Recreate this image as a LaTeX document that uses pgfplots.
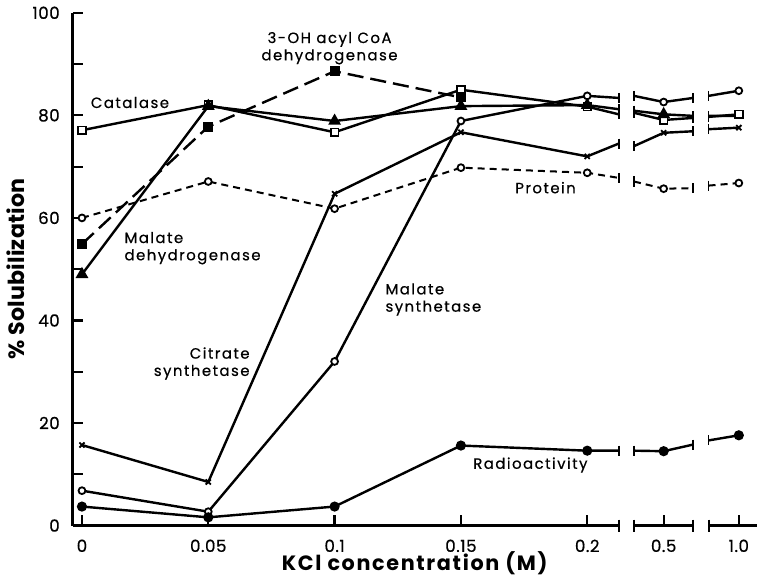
\documentclass[border=0pt]{standalone}
\usepackage{fontspec}
\setmainfont{Poppins}
\newfontfamily\annot{Poppins}[LetterSpace=10, FakeBold=0.6]
\newfontfamily\tickf{Poppins}[LetterSpace=3, FakeBold=0.5]
\newfontfamily\labf{Poppins}[LetterSpace=8]
\newfontfamily\ylabf{Poppins}[LetterSpace=1]
\usepackage{pgfplots}
\pgfplotsset{compat=1.18}
\begin{document}
\begin{tikzpicture}
\begin{axis}[
  scale only axis, width=340pt, height=255pt,
  xmin=-0.072, xmax=5.34, ymin=0, ymax=100,
  axis x line=bottom, axis y line=left,
  x axis line style={draw=none},
  y axis line style={line width=1.5pt,-},
  xtick={0,1,2,3,4,4.605,5.2},
  xticklabels={0,0.05,0.1,0.15,0.2,0.5,1.0},
  ytick={0,20,40,60,80,100},
  yticklabels={0,20,40,60,80,100},
  minor ytick={10,30,50,70,90},
  tick align=inside, major tick length=5pt, minor tick length=5pt,
  tick style={line width=1.1pt,black},
  /pgf/number format/assume math mode=true,
  tick label style={font=\tickf\fontsize{8.3}{9}\selectfont},
  yticklabel style={xshift=-3pt},
  xticklabel style={yshift=-3.5pt},
  xlabel={KCl concentration (M)},
  ylabel={\% Solubilization},
  xlabel style={font=\labf\bfseries\fontsize{10.3}{11}\selectfont, yshift=7pt},
  ylabel style={font=\ylabf\bfseries\fontsize{11}{12}\selectfont, yshift=-3pt},
  unbounded coords=jump,
  clip=false,
  every axis plot/.append style={black, line width=1.2pt},
]
% broken x axis line
\addplot[line width=1.5pt, mark=none] coordinates {(-0.072,0) (4.25,0) (4.3,nan) (4.37,0) (4.84,0) (4.9,nan) (4.96,0) (5.34,0)};
\addplot[only marks, mark=|, mark size=3pt, line width=1pt] coordinates {(4.25,0) (4.37,0) (4.84,0) (4.96,0)};

% Catalase
\addplot[mark=none] coordinates {(0,77.1)(1,82.0)(2,76.7)(3,85.0)(4,81.7)(4.25,80.2)(4.3,nan)(4.37,80.5)(4.605,79.1)(4.84,79.5)(4.9,nan)(4.96,79.7)(5.2,80.2)};
% Malate dehydrogenase
\addplot[mark=none] coordinates {(0,49.0)(1,81.8)(2,78.9)(3,81.8)(4,82.0)(4.25,81.2)(4.3,nan)(4.37,80.9)(4.605,80.2)(4.84,79.9)(4.9,nan)(4.96,79.9)(5.2,79.9)};
% 3-OH acyl CoA dehydrogenase
\addplot[mark=none, dash pattern=on 8pt off 3.5pt] coordinates {(0,54.9)(1,77.8)(2,88.6)(3,83.5)};
% Protein
\addplot[mark=none, line width=1pt, dash pattern=on 3.5pt off 2.5pt] coordinates {(0,60.0)(1,67.1)(2,61.8)(3,69.8)(4,68.8)(4.25,67.8)(4.3,nan)(4.37,67.1)(4.605,65.7)(4.84,65.8)(4.9,nan)(4.96,66.3)(5.2,66.8)};
% Citrate synthetase
\addplot[mark=none] coordinates {(0,15.7)(1,8.5)(2,64.7)(3,76.7)(4,72.0)(4.25,74.5)(4.3,nan)(4.37,74.0)(4.605,76.6)(4.84,76.9)(4.9,nan)(4.96,77.3)(5.2,77.6)};
% Malate synthetase
\addplot[mark=none] coordinates {(0,6.8)(1,2.7)(2,32.0)(3,78.9)(4,83.8)(4.25,83.4)(4.3,nan)(4.37,83.8)(4.605,82.6)(4.84,83.4)(4.9,nan)(4.96,83.8)(5.2,84.8)};
% Radioactivity
\addplot[mark=none] coordinates {(0,3.7)(1,1.6)(2,3.7)(3,15.6)(4,14.6)(4.25,14.6)(4.3,nan)(4.37,14.6)(4.605,14.5)(4.84,15.8)(4.9,nan)(4.96,16.6)(5.2,17.6)};

% break ticks on series
\addplot[only marks, mark=|, mark size=2.5pt, line width=0.9pt] coordinates {
(4.25,80.2)(4.37,80.5)(4.84,79.5)(4.96,79.7)
(4.25,81.2)(4.37,80.9)(4.84,79.9)(4.96,79.9)
(4.25,67.8)(4.37,67.1)(4.84,65.8)(4.96,66.3)
(4.25,74.5)(4.37,74.0)(4.84,76.9)(4.96,77.3)
(4.25,83.4)(4.37,83.8)(4.84,83.4)(4.96,83.8)
(4.25,14.6)(4.37,14.6)(4.84,15.8)(4.96,16.6)};

% markers
\addplot[only marks, mark=square*, mark size=1.9pt, mark options={fill=white, line width=0.9pt}] coordinates {(0,77.1)(1,82.0)(2,76.7)(3,85.0)(4,81.7)(4.605,79.1)(5.2,80.2)};
\addplot[only marks, mark=triangle*, mark size=2.5pt, mark options={fill=black}] coordinates {(0,49.0)(1,81.8)(2,78.9)(3,81.8)(4,82.0)(4.605,80.2)};
\addplot[only marks, mark=square*, mark size=1.9pt, mark options={fill=black}] coordinates {(0,54.9)(1,77.8)(2,88.6)(3,83.5)};
\addplot[only marks, mark=*, mark size=1.7pt, mark options={fill=white, line width=0.9pt}] coordinates {(0,60.0)(1,67.1)(2,61.8)(3,69.8)(4,68.8)(4.605,65.7)(5.2,66.8)};
\addplot[only marks, mark=x, mark size=1.8pt, mark options={line width=0.9pt}] coordinates {(0,15.7)(1,8.5)(2,64.7)(3,76.7)(4,72.0)(4.605,76.6)(5.2,77.6)};
\addplot[only marks, mark=*, mark size=1.7pt, mark options={fill=white, line width=0.9pt}] coordinates {(0,6.8)(1,2.7)(2,32.0)(3,78.9)(4,83.8)(4.605,82.6)(5.2,84.8)};
\addplot[only marks, mark=*, mark size=1.9pt, mark options={fill=black}] coordinates {(0,3.7)(1,1.6)(2,3.7)(3,15.6)(4,14.6)(4.605,14.5)(5.2,17.6)};

% annotations
\begin{scope}[every node/.style={font=\annot\fontsize{7.4}{8.6}\selectfont, inner sep=0pt}]
\node at (axis cs:0.38,82.5) {Catalase};
\node[align=center] at (axis cs:1.96,93.1) {3-OH acyl CoA\\dehydrogenase};
\node[align=left, anchor=west] at (axis cs:0.334,54.1) {Malate\\dehydrogenase};
\node[align=right, anchor=east] at (axis cs:1.33,31.6) {Citrate\\synthetase};
\node[align=left, anchor=west] at (axis cs:2.40,44.1) {Malate\\synthetase};
\node at (axis cs:3.67,65.9) {Protein};
\node at (axis cs:3.55,11.8) {Radioactivity};
\end{scope}
\end{axis}
\end{tikzpicture}
\end{document}
